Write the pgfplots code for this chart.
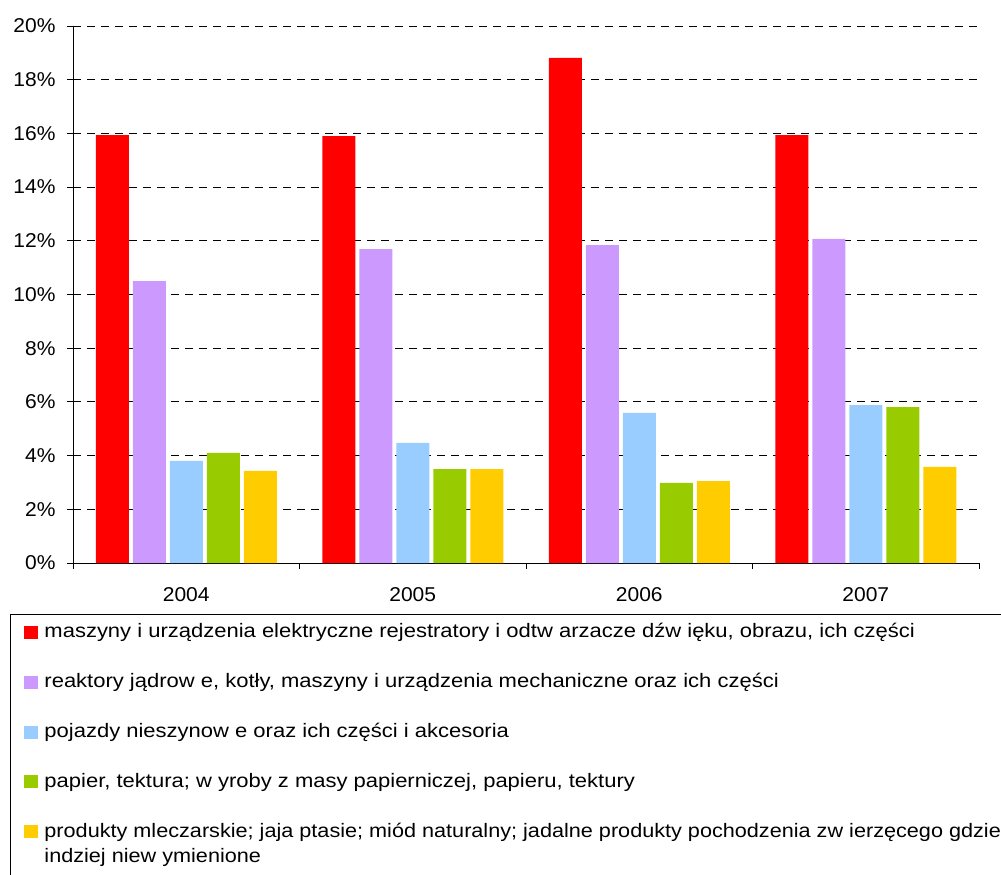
\documentclass[border=0pt]{standalone}
\usepackage{pgfplots}
\pgfplotsset{compat=1.18}
\usepackage{fontspec}
\setmainfont{Liberation Sans}
\newfontfamily\legfont[FakeStretch=1.128]{Liberation Sans}
\newfontfamily\legfontB[FakeStretch=1.11]{Liberation Sans}
\newfontfamily\tickfont[FakeStretch=1.05]{Liberation Sans}
\definecolor{cRed}{HTML}{FF0000}
\definecolor{cPurple}{HTML}{CC99FF}
\definecolor{cBlue}{HTML}{99CCFF}
\definecolor{cGreen}{HTML}{99CC00}
\definecolor{cYellow}{HTML}{FFCC00}
\begin{document}
\begin{tikzpicture}
\useasboundingbox (0,0) rectangle (1001pt,-875pt);
\clip (0,0) rectangle (1001pt,-875pt);
\begin{axis}[
  at={(73pt,-563pt)}, anchor=south west,
  scale only axis, width=906pt, height=537pt,
  xmin=-0.5, xmax=3.5, ymin=0, ymax=20,
  axis lines*=left,
  axis line style={black, line width=0.9pt},
  xtick={0,1,2,3},
  xticklabels={2004,2005,2006,2007},
  minor xtick={-0.5,0.5,1.5,2.5,3.5},
  major x tick style={draw=none},
  minor x tick style={black, line width=0.9pt},
  ytick={0,2,...,20},
  yticklabel={\pgfmathprintnumber{\tick}\%},
  y tick style={black, line width=0.9pt},
  tick align=outside,
  major tick length=6pt, minor tick length=6pt,
  ymajorgrids,
  grid style={black, line width=0.9pt, dash pattern=on 8pt off 6pt},
  /pgf/number format/assume math mode=true,
  tick label style={font=\tickfont\fontsize{20}{24}\selectfont, black},
  x tick label style={yshift=-15pt},
  y tick label style={xshift=-8pt},
  ybar, bar width=33pt,
  legend image code/.code={\fill[#1] (0pt,-1.3pt) rectangle (14pt,11.7pt);},
  legend style={
    at={(axis description cs:-0.06954,-0.09497)}, anchor=north west,
    draw=black, line width=0.9pt,
    inner xsep=14pt, inner ysep=7pt,
    row sep=28.9pt, column sep=6pt,
    font=\legfont\fontsize{19.5}{25}\selectfont,
    nodes={inner sep=0pt, text height=16pt, text depth=5pt},
    cells={anchor=base west},
  },
]
\addplot[fill=cRed, draw=none, bar shift=-74pt] coordinates {(0,15.94) (1,15.90) (2,18.81) (3,15.94)};
\addplot[fill=cPurple, draw=none, bar shift=-37pt] coordinates {(0,10.50) (1,11.69) (2,11.84) (3,12.07)};
\addplot[fill=cBlue, draw=none, bar shift=0pt] coordinates {(0,3.80) (1,4.47) (2,5.59) (3,5.88)};
\addplot[fill=cGreen, draw=none, bar shift=37pt] coordinates {(0,4.10) (1,3.50) (2,2.98) (3,5.81)};
\addplot[fill=cYellow, draw=none, bar shift=74pt] coordinates {(0,3.43) (1,3.50) (2,3.05) (3,3.58)};
\addlegendentry{maszyny i urządzenia elektryczne rejestratory i odtw arzacze dźw ięku, obrazu, ich części}
\addlegendentry{reaktory jądrow e, kotły, maszyny i urządzenia mechaniczne oraz ich części}
\addlegendentry{pojazdy nieszynow e oraz ich części i akcesoria}
\addlegendentry{papier, tektura; w yroby z masy papierniczej, papieru, tektury}
\addlegendentry[text depth=45pt]{\parbox[t]{1100pt}{\legfontB\fontsize{19.5}{25}\selectfont produkty mleczarskie; jaja ptasie; miód naturalny; jadalne produkty pochodzenia zw ierzęcego gdzie\\indziej niew ymienione}}
\end{axis}
\end{tikzpicture}
\end{document}
